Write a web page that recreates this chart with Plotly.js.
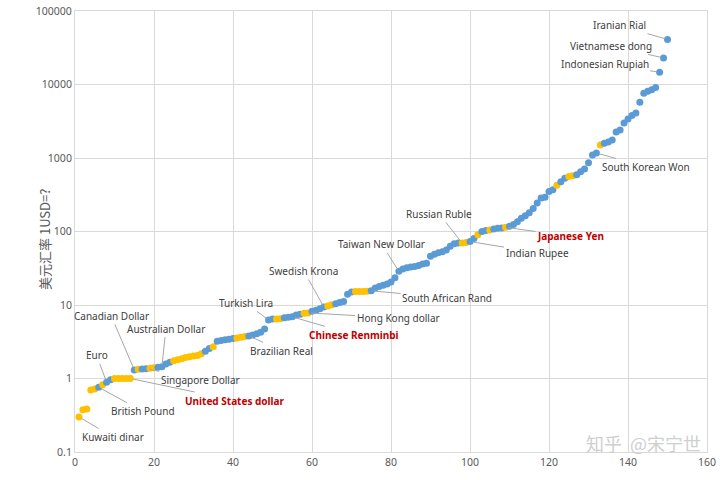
<!DOCTYPE html>
<html>
<head>
<meta charset="utf-8">
<script src="https://cdn.plot.ly/plotly-3.0.1.min.js"></script>
<style>
  html, body { margin: 0; padding: 0; background: #fff; }
  #chart { width: 720px; height: 480px; }
</style>
</head>
<body>
<div id="chart"></div>
<script>
// currencies ranked by units per 1 USD
const rates = [
    0.30, 0.375, 0.386, 0.70, 0.72, 0.76, 0.82, 0.89, 0.96, 1.0,
    1.0, 1.0, 1.0, 1.0, 1.31, 1.34, 1.35, 1.36, 1.38, 1.40,
    1.42, 1.45, 1.58, 1.67, 1.75, 1.80, 1.85, 1.93, 1.97, 2.02,
    2.06, 2.17, 2.35, 2.55, 2.70, 3.2, 3.3, 3.36, 3.42, 3.5,
    3.57, 3.65, 3.72, 3.8, 3.9, 4.05, 4.25, 4.7, 6.27, 6.45,
    6.45, 6.5, 6.7, 6.8, 6.9, 7.3, 7.5, 7.7, 7.8, 8.2,
    8.5, 8.9, 9.4, 9.7, 10.1, 10.4, 10.8, 11.2, 14.0, 15.0,
    15.3, 15.3, 15.3, 15.4, 15.6, 17, 17.8, 18.5, 19.3, 20.5,
    23.4, 28.7, 30.8, 32, 33, 33.5, 34.5, 36, 37, 46,
    49, 51.5, 53, 56, 63, 68, 69.5, 70, 71, 73,
    80, 90, 100, 103, 105, 108, 111, 112, 114, 118,
    125, 136, 152, 164, 180, 205, 245, 285, 292, 350,
    370, 425, 475, 530, 560, 575, 590, 650, 710, 860,
    1100, 1170, 1500, 1590, 1650, 1760, 2250, 2400, 3000, 3400,
    3800, 4100, 5750, 7600, 8100, 8500, 9100, 14700, 23000, 41000
];

// ranks drawn in yellow, all others blue
const yellowRanks = [1, 2, 3, 4, 5, 7, 10, 11, 12, 13, 14, 16, 19, 20,
    25, 26, 27, 28, 29, 30, 31, 32, 35, 41, 42, 43, 51, 52, 58, 59,
    64, 65, 71, 72, 73, 74, 98, 99, 102, 105, 109, 122, 125, 126, 133];

// labelled currencies: rank, name, label offset in px, red highlight
const labelRank = [1, 6, 8, 14, 15, 18, 22, 44, 49, 55, 59, 63, 75, 82, 98, 100, 109, 132, 148, 149, 150];
const labelText = ["Kuwaiti dinar", "British Pound", "Euro", "United States dollar", "Canadian Dollar",
    "Singapore Dollar", "Australian Dollar", "Brazilian Real", "Turkish Lira", "Chinese Renminbi",
    "Hong Kong dollar", "Swedish Krona", "South African Rand", "Taiwan New Dollar", "Russian Ruble",
    "Indian Rupee", "Japanese Yen", "South Korean Won", "Indonesian Rupiah", "Vietnamese dong", "Iranian Rial"];
const labelAx = [34, 44, -10, 105, -23, 54, 4, 33, -23, 62, 90, -20, 76, -17, -23, 67, 65, 50, -55, -53, -48];
const labelAy = [20, 24, -27, 22, -54, 11, -38, 15, -17, 18, 5, -36, 7, -27, -29, 11, 9, 14, -8, -12, -14];
const labelRed = ["United States dollar", "Chinese Renminbi", "Japanese Yen"];

const BLUE = "#5B9BD5";
const YELLOW = "#FFC000";

let ranks = [];
let colors = [];
for (let i = 0; i < rates.length; i++) {
    ranks.push(i + 1);
    colors.push(yellowRanks.indexOf(i + 1) != -1 ? YELLOW : BLUE);
}

let trace = {
    x: ranks,
    y: rates,
    type: "scatter",
    mode: "markers",
    marker: { color: colors, size: 7, line: { width: 0 } },
    hoverinfo: "x+y"
};

let annotations = [];
for (let k = 0; k < labelRank.length; k++) {
    let red = labelRed.indexOf(labelText[k]) != -1;
    annotations.push({
        x: labelRank[k],
        y: Math.log10(rates[labelRank[k] - 1]),
        text: red ? "<b>" + labelText[k] + "</b>" : labelText[k],
        showarrow: true,
        arrowhead: 0,
        arrowwidth: 1,
        arrowcolor: "#A6A6A6",
        ax: labelAx[k],
        ay: labelAy[k],
        standoff: 3,
        font: { family: "Noto Sans, Open Sans, sans-serif", size: 10, color: red ? "#C00000" : "#404040" }
    });
}

// y axis title, placed by hand like the original
annotations.push({
    xref: "paper", yref: "paper",
    x: 0, y: 0.5,
    xshift: -42, yshift: -8,
    textangle: -90,
    text: "美元汇率 1USD=?",
    showarrow: false,
    font: { family: "Noto Sans CJK SC, sans-serif", size: 13, color: "#595959" }
});

// watermark
annotations.push({
    xref: "paper", yref: "paper",
    x: 1, y: 0,
    xanchor: "right", yanchor: "middle",
    xshift: -5, yshift: 9,
    borderpad: 0,
    text: "知乎&nbsp;&nbsp;@宋宁世",
    showarrow: false,
    font: { family: "Noto Sans CJK SC, sans-serif", size: 18, color: "#CFCFCF" }
});

let tickVals = [0.1, 1, 10, 100, 1000, 10000, 100000];
let tickText = ["0.1", "1", "10", "100", "1000", "10000", "100000"];

let layout = {
    width: 720,
    height: 480,
    margin: { l: 75, r: 13, t: 11, b: 28 },
    paper_bgcolor: "#FFFFFF",
    plot_bgcolor: "#FFFFFF",
    showlegend: false,
    font: { family: "Noto Sans, Open Sans, sans-serif", size: 10.5, color: "#595959" },
    xaxis: {
        range: [0, 160],
        dtick: 20,
        tick0: 0,
        showgrid: true,
        gridcolor: "#D9D9D9",
        gridwidth: 1,
        zeroline: false,
        showline: true,
        linecolor: "#D9D9D9",
        ticks: "",
        mirror: true,
        tickfont: { size: 10.5, color: "#595959" }
    },
    yaxis: {
        type: "log",
        range: [-1, 5],
        tickvals: tickVals,
        ticktext: tickText,
        showgrid: true,
        gridcolor: "#D9D9D9",
        gridwidth: 1,
        zeroline: false,
        showline: true,
        linecolor: "#D9D9D9",
        mirror: true,
        ticks: "",
        tickfont: { size: 10.5, color: "#595959" }
    },
    annotations: annotations
};

Plotly.newPlot("chart", [trace], layout, { staticPlot: true });
</script>
</body>
</html>
